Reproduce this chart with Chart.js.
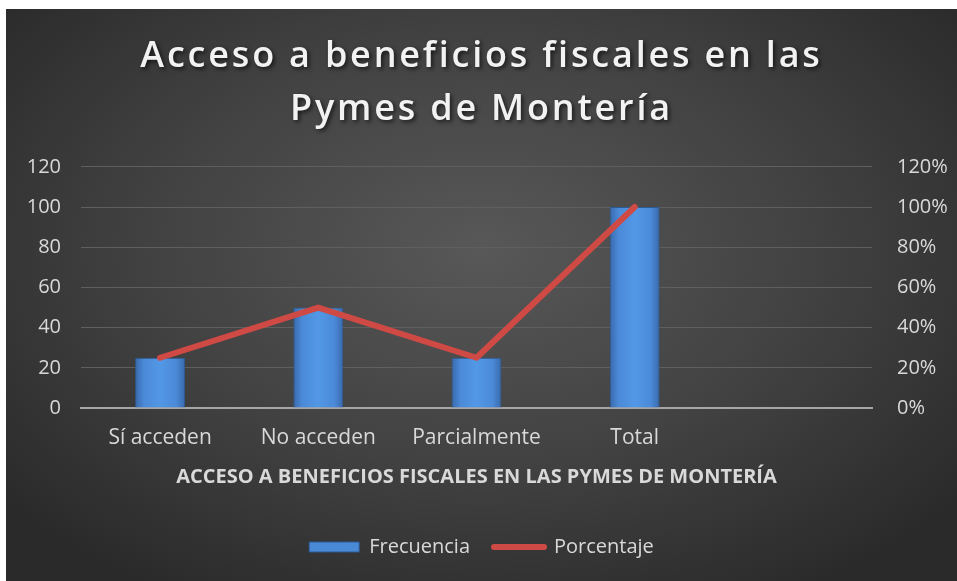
<!DOCTYPE html>
<html lang="es">
<head>
<meta charset="utf-8">
<script src="https://cdn.jsdelivr.net/npm/chart.js@4"></script>
<style>
    html, body { margin: 0; padding: 0; background: #ffffff; }
    .chart-box {
        position: absolute;
        left: 6px; top: 9px;
        width: 951px; height: 572px;
        background: radial-gradient(ellipse 65% 70% at 50% 42%, #585858 0%, #414141 55%, #2a2a2a 100%);
    }
</style>
</head>
<body>
<div class="chart-box"><canvas id="chart"></canvas></div>
<script>
// --- Dados ---
const categorias = ['Sí acceden', 'No acceden', 'Parcialmente', 'Total', ''];
const frecuencia = [25, 50, 25, 100, null];
const porcentaje = [25, 50, 25, 100, null];
const ticksIzq = [0, 20, 40, 60, 80, 100, 120];

const tituloLineas = ['Acceso a beneficios fiscales en las', 'Pymes de Montería'];
const tituloEje = 'ACCESO A BENEFICIOS FISCALES EN LAS PYMES DE MONTERÍA';

const FONT = "'Open Sans', sans-serif";
const azul = '#4a89d6';
const rojo = '#cf4a45';

// sombra e espaçamento no título (como no Excel)
const titleShadow = {
    id: 'titleShadow',
    beforeDraw(chart) {
        const tb = chart.titleBlock;
        if (tb && !tb._shadowed) {
            const draw = tb.draw.bind(tb);
            tb.draw = function (area) {
                const c = chart.ctx;
                c.save();
                c.letterSpacing = '2.8px';
                c.shadowColor = 'rgba(0,0,0,0.65)';
                c.shadowBlur = 4;
                c.shadowOffsetX = 2;
                c.shadowOffsetY = 2;
                draw(area);
                c.restore();
            };
            tb._shadowed = true;
        }
    }
};

function barFill(c) {
    const chart = c.chart;
    if (!chart.chartArea || c.type !== 'data') return azul;
    const cx = chart.scales.x.getPixelForValue(c.dataIndex);
    const g = chart.ctx.createLinearGradient(cx - 25, 0, cx + 25, 0);
    g.addColorStop(0, '#3869ab');
    g.addColorStop(0.18, '#4b8ad8');
    g.addColorStop(0.5, '#5298e6');
    g.addColorStop(0.82, '#4b8ad8');
    g.addColorStop(1, '#3869ab');
    return g;
}

new Chart(document.getElementById('chart'), {
    data: {
        labels: categorias,
        datasets: [
            {
                type: 'bar',
                label: 'Frecuencia',
                data: frecuencia,
                yAxisID: 'y',
                backgroundColor: barFill,
                borderColor: '#2d5b93',
                borderWidth: 1,
                categoryPercentage: 1,
                barPercentage: 0.316,
                order: 2
            },
            {
                type: 'line',
                label: 'Porcentaje',
                data: porcentaje,
                yAxisID: 'y1',
                borderColor: rojo,
                backgroundColor: rojo,
                borderWidth: 6,
                borderCapStyle: 'round',
                borderJoinStyle: 'round',
                pointRadius: 0,
                pointStyle: 'line',
                tension: 0,
                order: 1
            }
        ]
    },
    options: {
        responsive: true,
        maintainAspectRatio: false,
        animation: false,
        layout: { padding: { top: 0, left: 0, right: 0, bottom: 14 } },
        scales: {
            x: {
                grid: { display: false, drawTicks: false },
                border: { display: true, color: '#a6a6a6', width: 2 },
                ticks: { color: '#d9d9d9', font: { family: FONT, size: 21 }, padding: 17, maxRotation: 0, autoSkip: false },
                title: {
                    display: true, text: tituloEje, color: '#d9d9d9',
                    font: { family: FONT, size: 20, weight: 'bold' },
                    padding: { top: 0, bottom: 24 }
                },
                afterFit(scale) { scale.height = 105; }
            },
            y: {
                position: 'left',
                min: 0, max: 120,
                afterBuildTicks(scale) { scale.ticks = ticksIzq.map(v => ({ value: v })); },
                grid: {
                    drawTicks: false,
                    color: c => (c.tick && c.tick.value === 0) ? 'rgba(0,0,0,0)' : '#5f5f5f',
                    lineWidth: 1
                },
                border: { display: false },
                ticks: { color: '#d9d9d9', font: { family: FONT, size: 20 }, padding: 20 },
                afterFit(scale) { scale.width = 75; }
            },
            y1: {
                position: 'right',
                min: 0, max: 120,
                afterBuildTicks(scale) { scale.ticks = ticksIzq.map(v => ({ value: v })); },
                grid: { display: false, drawTicks: false },
                border: { display: false },
                ticks: {
                    color: '#d9d9d9', font: { family: FONT, size: 20 }, padding: 25,
                    callback: v => v + '%'
                },
                afterFit(scale) { scale.width = 85; }
            }
        },
        plugins: {
            title: {
                display: true,
                text: tituloLineas,
                color: '#f2f2f2',
                font: { family: FONT, size: 36, weight: '600', lineHeight: 1.47 },
                padding: { top: 21, bottom: 31 }
            },
            legend: {
                position: 'bottom',
                labels: {
                    color: '#d9d9d9',
                    font: { family: FONT, size: 20 },
                    usePointStyle: true,
                    pointStyleWidth: 50,
                    boxHeight: 10,
                    padding: 24,
                    sort: (a, b) => a.datasetIndex - b.datasetIndex,
                    generateLabels(chart) {
                        const items = Chart.defaults.plugins.legend.labels.generateLabels(chart);
                        items.forEach(it => {
                            if (it.datasetIndex === 0) {
                                it.pointStyle = 'rect';
                                it.fillStyle = azul;
                                it.strokeStyle = '#2d5b93';
                                it.lineWidth = 1;
                            } else {
                                it.pointStyle = 'line';
                                it.strokeStyle = rojo;
                                it.lineWidth = 6;
                                it.lineCap = 'round';
                            }
                        });
                        return items;
                    }
                }
            },
            tooltip: { enabled: false }
        }
    },
    plugins: [titleShadow]
});
</script>
</body>
</html>
